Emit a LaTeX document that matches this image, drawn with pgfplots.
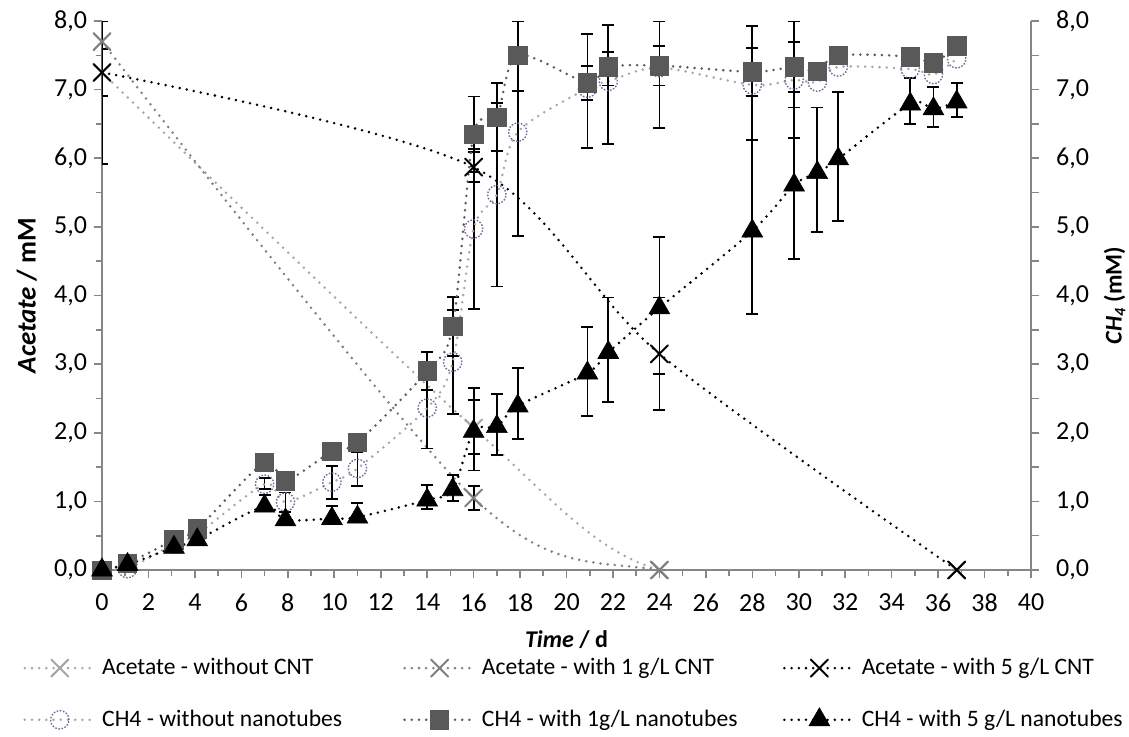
\documentclass[border=0pt]{standalone}
\usepackage{pgfplots}
\usepackage{pgfplotstable}
\pgfplotsset{compat=1.18}
\usepackage{fontspec}
\setmainfont{Carlito}
\definecolor{lg}{HTML}{A6A6A6}
\definecolor{mg}{HTML}{7F7F7F}
\definecolor{dg}{HTML}{595959}
\definecolor{pu}{HTML}{8064A2}
\definecolor{axg}{HTML}{868686}

% Acetate series
\pgfplotstableread{
x y
0 7.25
16 2.07
24 0
36.8 0
}\acA
\pgfplotstableread{
x y
0 7.70
16 1.05
24 0
36.8 0
}\acB
\pgfplotstableread{
x y
0 7.25
16 5.87
24 3.15
36.8 0
}\acC
% CH4 series
\pgfplotstableread{
x y
0 0
1.1 0.02
3.1 0.38
4.1 0.52
7.0 1.25
7.9 0.99
9.9 1.28
11.0 1.48
14.0 2.36
15.1 3.03
16.0 4.97
17.0 5.47
17.9 6.38
20.9 7.02
21.8 7.12
24.0 7.32
28.0 7.07
29.8 7.14
30.8 7.11
31.7 7.33
34.8 7.30
35.8 7.22
36.8 7.45
}\chA
\pgfplotstableread{
x y
0 0
1.1 0.10
3.1 0.44
4.1 0.60
7.0 1.57
7.9 1.30
9.9 1.73
11.0 1.86
14.0 2.90
15.1 3.55
16.0 6.35
17.0 6.60
17.9 7.50
20.9 7.10
21.8 7.33
24.0 7.35
28.0 7.26
29.8 7.33
30.8 7.27
31.7 7.50
34.8 7.48
35.8 7.39
36.8 7.64
}\chB
\pgfplotstableread{
x y
0 0
1.1 0.08
3.1 0.33
4.1 0.44
7.0 0.93
7.9 0.73
9.9 0.75
11.0 0.77
14.0 1.02
15.1 1.17
16.0 2.02
17.0 2.09
17.9 2.39
20.9 2.87
21.8 3.17
24.0 3.82
28.0 4.94
29.8 5.61
30.8 5.79
31.7 5.99
34.8 6.79
35.8 6.72
36.8 6.82
}\chC
% error bars (x y plus minus)
\pgfplotstableread{
x y ep em
0 7.25 0.34 0.34
16 2.07 0.41 0.38
}\eacA
\pgfplotstableread{
x y ep em
16 1.05 0.17 0.18
}\eacB
\pgfplotstableread{
x y ep em
0 7.25 0.75 1.33
16 5.87 0.22 0.22
24 3.15 0.82 0.82
}\eacC
\pgfplotstableread{
x y ep em
7.0 1.25 0.09 0.07
7.9 0.99 0.14 0.14
9.9 1.28 0.24 0.25
11.0 1.48 0.24 0.25
14.0 2.36 0.59 0.59
15.1 3.03 0.76 0.76
16.0 4.97 1.17 1.17
17.0 5.47 1.33 1.34
17.9 6.38 0.60 1.51
20.9 7.02 0.79 0.87
21.8 7.12 0.82 0.91
24.0 7.32 0.68 0.88
28.0 7.07 0.86 0.80
29.8 7.14 0.86 0.84
}\echA
\pgfplotstableread{
x y ep em
14.0 2.90 0.28 0.28
15.1 3.55 0.43 0.43
16.0 6.35 0.55 0.55
17.0 6.60 0.50 0.50
17.9 7.50 0.50 0.52
20.9 7.10 0.25 0.25
21.8 7.33 0.22 0.27
24.0 7.35 0.29 0.29
28.0 7.26 0.35 0.35
29.8 7.33 0.36 0.36
}\echB
\pgfplotstableread{
x y ep em
7.0 0.96 0.13 0.10
9.9 0.78 0.15 0.10
11.0 0.80 0.18 0.10
14.0 1.06 0.18 0.17
15.1 1.20 0.19 0.20
16.0 2.05 0.60 0.60
17.0 2.12 0.45 0.44
17.9 2.42 0.52 0.51
20.9 2.90 0.64 0.66
21.8 3.20 0.77 0.75
24.0 3.85 1.00 0.99
28.0 4.97 1.30 1.24
29.8 5.64 1.10 1.11
30.8 5.82 0.92 0.89
31.7 6.02 0.95 0.93
34.8 6.82 0.35 0.32
35.8 6.75 0.29 0.29
36.8 6.85 0.25 0.25
}\echC

\pgfplotsset{
  dotline/.style={line width=1.4pt, line cap=round, dash pattern=on 0pt off 3.6pt},
  ebar/.style={forget plot, draw=none, mark=none,
    error bars/.cd, y dir=both, y explicit,
    error bar style={draw=black, line width=0.9pt, solid},
    error mark options={draw=black, rotate=90, mark size=3pt, line width=0.9pt, solid}},
}
\newcommand{\lt}[1]{\hspace{3pt}\makebox[150.5pt][l]{#1}}

\begin{document}
\begin{tikzpicture}
\useasboundingbox (-51pt,-83pt) rectangle (513.5pt,285pt);
\begin{axis}[
  scale only axis,
  width=464.5pt, height=274.5pt,
  xmin=0, xmax=40, ymin=0, ymax=8,
  axis x line*=bottom, axis y line*=left,
  axis line style={axg, line width=0.8pt},
  every tick/.style={axg, line width=0.8pt},
  tick align=outside,
  major tick length=4pt, minor tick length=3pt,
  xtick={0,2,...,40}, minor x tick num=1,
  ytick={0,1,...,8}, minor y tick num=1,
  tick label style={font=\fontsize{13}{15}\selectfont, black},
  xticklabel style={yshift=-4.5pt},
  /pgf/number format/assume math mode=true,
  yticklabel style={/pgf/number format/.cd, fixed, fixed zerofill, precision=1, use comma},
  xlabel={\textbf{\textit{Time} / d}},
  ylabel={\textbf{\textit{Acetate} / mM}},
  every axis x label/.style={at={(axis description cs:0.5,-0.1275)}, anchor=center, font=\fontsize{12}{14}\selectfont},
  every axis y label/.style={at={(axis description cs:-0.081,0.5)}, anchor=center, rotate=90, font=\fontsize{13.5}{15}\selectfont},
  legend columns=3,
  legend style={at={(axis description cs:0,0)}, anchor=north west, xshift=-39.5pt, yshift=-44pt,
    draw=none, fill=none, inner sep=0pt, font=\fontsize{11.8}{13.5}\selectfont, row sep=15pt,
    nodes={inner sep=0pt},
    /tikz/every even column/.append style={column sep=0pt}},
  legend cell align=left,
  legend image code/.code={\draw[mark repeat=2,mark phase=2,#1] plot coordinates {(0pt,0pt)(17.5pt,0pt)(35pt,0pt)};},
]
% Acetate without CNT
\addplot[ebar] table[x=x,y=y,y error plus=ep,y error minus=em]{\eacA};
\addplot[lg, dotline, smooth, mark=x, mark size=6pt, mark options={solid, line width=1pt, lg}] table[x=x,y=y]{\acA};
\addlegendentry{\lt{Acetate - without CNT}}
% Acetate 1 g/L
\addplot[ebar] table[x=x,y=y,y error plus=ep,y error minus=em]{\eacB};
\addplot[mg, dotline, smooth, mark=x, mark size=6pt, mark options={solid, line width=1pt, mg}] table[x=x,y=y]{\acB};
\addlegendentry{\lt{Acetate - with 1 g/L CNT}}
% Acetate 5 g/L
\addplot[ebar] table[x=x,y=y,y error plus=ep,y error minus=em]{\eacC};
\addplot[black, dotline, smooth, mark=x, mark size=6pt, mark options={solid, line width=1pt, black}] table[x=x,y=y]{\acC};
\addlegendentry{\hspace{3pt}Acetate - with 5 g/L CNT}
% CH4 without
\addplot[ebar] table[x=x,y=y,y error plus=ep,y error minus=em]{\echA};
\addplot[lg, dotline, smooth, mark=o, mark size=4.6pt, mark options={draw=pu, line width=0.7pt, dash pattern=on 0.8pt off 0.8pt, line cap=butt, fill=none}] table[x=x,y=y]{\chA};
\addlegendentry{\lt{CH4 - without nanotubes}}
% CH4 1 g/L
\addplot[ebar] table[x=x,y=y,y error plus=ep,y error minus=em]{\echB};
\addplot[dg, dotline, smooth, mark=square*, mark size=4.6pt, mark options={solid, fill=dg, draw=dg, line width=0.3pt}] table[x=x,y=y]{\chB};
\addlegendentry{\lt{CH4 - with 1g/L nanotubes}}
% CH4 5 g/L
\addplot[ebar] table[x=x,y=y,y error plus=ep,y error minus=em]{\echC};
\addplot[black, dotline, smooth, mark=triangle*, mark size=6pt, mark options={solid, fill=black, draw=black, line width=0.3pt}] table[x=x,y=y]{\chC};
\addlegendentry{\hspace{3pt}CH4 - with 5 g/L nanotubes}
\end{axis}
\begin{axis}[
  scale only axis,
  width=464.5pt, height=274.5pt,
  xmin=0, xmax=40, ymin=0, ymax=8,
  axis x line=none, axis y line*=right,
  axis line style={axg, line width=0.8pt},
  every tick/.style={axg, line width=0.8pt},
  tick align=outside,
  major tick length=4pt, minor tick length=4pt,
  ytick={0,1,...,8}, minor y tick num=1,
  tick label style={font=\fontsize{13}{15}\selectfont, black},
  yticklabel style={xshift=5pt},
  /pgf/number format/assume math mode=true,
  yticklabel style={/pgf/number format/.cd, fixed, fixed zerofill, precision=1, use comma},
  ylabel={\textbf{\textit{CH\textsubscript{4}} (mM)}},
  every axis y label/.style={at={(axis description cs:1.09,0.5)}, anchor=center, rotate=90, font=\fontsize{12}{14}\selectfont},
]
\addplot[draw=none, mark=none, forget plot] coordinates {(0,0)(40,8)};
\end{axis}
\end{tikzpicture}
\end{document}
